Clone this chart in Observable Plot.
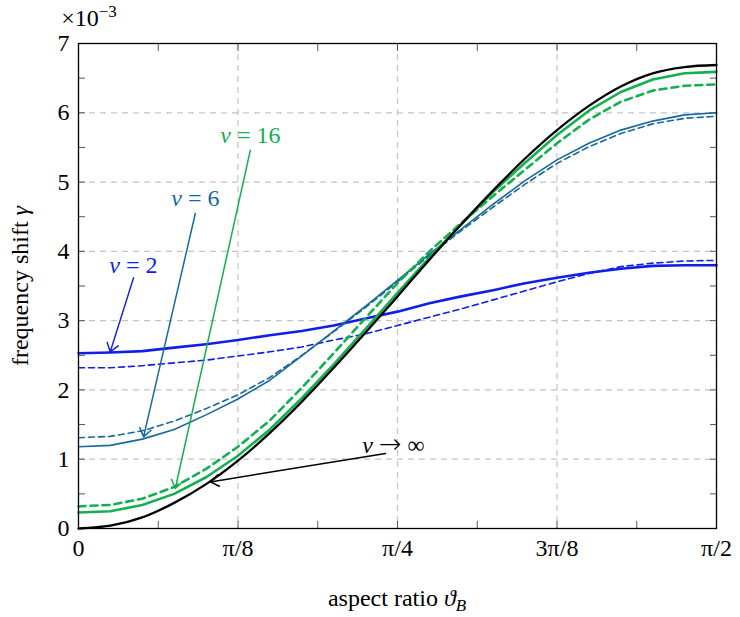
<!DOCTYPE html>
<html><head><meta charset="utf-8">
<script src="https://cdn.jsdelivr.net/npm/d3@7"></script>
<script src="https://cdn.jsdelivr.net/npm/@observablehq/plot@0.6"></script>
<style>html,body{margin:0;padding:0;background:#fff;} svg{display:block}</style>
</head><body><div id="chart"></div>
<script>
// sample positions of the aspect ratio, as fractions of pi
const thetaFrac = [0, 0.025, 0.05, 0.075, 0.1, 0.125, 0.15, 0.175, 0.2, 0.225, 0.25,
                   0.275, 0.3, 0.325, 0.35, 0.375, 0.4, 0.425, 0.45, 0.475, 0.5];
// frequency shift gamma, in units of 1e-3
const blackInf     = [0, 0.04, 0.16, 0.37, 0.64, 0.98, 1.38, 1.83, 2.32, 2.83, 3.35, 3.88, 4.39, 4.88, 5.34, 5.75, 6.10, 6.38, 6.57, 6.66, 6.69];
const green16Solid = [0.23, 0.25, 0.34, 0.50, 0.74, 1.05, 1.43, 1.88, 2.37, 2.88, 3.40, 3.91, 4.39, 4.86, 5.28, 5.68, 6.03, 6.30, 6.48, 6.57, 6.59];
const green16Dash  = [0.32, 0.34, 0.43, 0.60, 0.86, 1.18, 1.56, 2.03, 2.53, 3.04, 3.54, 4.00, 4.41, 4.80, 5.18, 5.56, 5.90, 6.16, 6.32, 6.39, 6.41];
const teal6Solid   = [1.18, 1.20, 1.29, 1.43, 1.64, 1.87, 2.14, 2.49, 2.85, 3.21, 3.58, 3.96, 4.32, 4.68, 5.02, 5.32, 5.56, 5.75, 5.88, 5.97, 6.00];
const teal6Dash    = [1.31, 1.33, 1.41, 1.55, 1.73, 1.93, 2.18, 2.50, 2.84, 3.19, 3.56, 3.94, 4.30, 4.64, 4.97, 5.27, 5.51, 5.70, 5.84, 5.92, 5.95];
const blue2Solid   = [2.53, 2.54, 2.56, 2.61, 2.66, 2.72, 2.79, 2.85, 2.93, 3.03, 3.13, 3.25, 3.35, 3.44, 3.54, 3.62, 3.69, 3.75, 3.79, 3.80, 3.80];
const blue2Dash    = [2.32, 2.32, 2.35, 2.39, 2.43, 2.49, 2.55, 2.62, 2.72, 2.81, 2.93, 3.05, 3.17, 3.30, 3.43, 3.56, 3.68, 3.78, 3.83, 3.86, 3.87];

// axis ticks
const xTickFrac   = [0, 0.125, 0.25, 0.375, 0.5];
const xTickLabels = ["0", "π/8", "π/4", "3π/8", "π/2"];
const xMinorFrac  = [0.0625, 0.125, 0.1875, 0.25, 0.3125, 0.375, 0.4375];
const yTicks      = [0, 1, 2, 3, 4, 5, 6, 7];
const yMinor      = [0.5, 1, 1.5, 2, 2.5, 3, 3.5, 4, 4.5, 5, 5.5, 6, 6.5];

// annotations (theta in rad, gamma in 1e-3)
const annLabels = ["ν = 2", "ν = 6", "ν = 16", "ν → ∞"];
const annTextX  = [0.135, 0.2876, 0.4231, 0.7755];
const annTextY  = [3.80, 4.76, 5.67, 1.20];
const annFromX  = [0.1355, 0.2876, 0.4231, 0.7558];
const annFromY  = [3.617, 4.546, 5.46, 1.082];
const annToX    = [0.0781, 0.1602, 0.2383, 0.3246];
const annToY    = [2.549, 1.322, 0.577, 0.6725];

const BLUE = "#0f1fe6", TEAL = "#16699e", GREEN = "#12b04f", BLACK = "#000000";
const annColors = [BLUE, TEAL, GREEN, BLACK];
const annAnchor = ["middle", "middle", "middle", "start"];

const theta = thetaFrac.map(f => f * Math.PI);
const toRows = vals => vals.map((v, i) => ({theta: theta[i], gamma: v}));
const xTicks = xTickFrac.map(f => f * Math.PI);
const xMinor = xMinorFrac.map(f => f * Math.PI);
const ann = annLabels.map((t, i) => ({t, tx: annTextX[i], ty: annTextY[i], x1: annFromX[i], y1: annFromY[i], x2: annToX[i], y2: annToY[i], c: annColors[i], a: annAnchor[i]}));

const FONT = "'Liberation Serif', 'DejaVu Serif', serif";
const lineStyles = [
  [blue2Solid, {stroke: BLUE, strokeWidth: 2.6}],
  [blue2Dash,  {stroke: BLUE, strokeWidth: 1.6, strokeDasharray: "6,4"}],
  [teal6Solid, {stroke: TEAL, strokeWidth: 1.6}],
  [teal6Dash,  {stroke: TEAL, strokeWidth: 1.6, strokeDasharray: "6,4"}],
  [green16Solid, {stroke: GREEN, strokeWidth: 2.6}],
  [green16Dash,  {stroke: GREEN, strokeWidth: 2.6, strokeDasharray: "7,5"}],
  [blackInf,   {stroke: BLACK, strokeWidth: 2.3, curve: "monotone-x"}]
];

const chart = Plot.plot({
  width: 740, height: 617,
  marginLeft: 78, marginRight: 24, marginTop: 43, marginBottom: 89,
  style: {fontSize: "23px", background: "#fff", color: "#000"},
  x: {domain: [0, Math.PI / 2]},
  y: {domain: [0, 7]},
  marks: [
    Plot.gridX(xTicks, {stroke: "#c4c4c4", strokeOpacity: 1, strokeWidth: 1.2, strokeDasharray: "6,5"}),
    Plot.gridY(yTicks, {stroke: "#c4c4c4", strokeOpacity: 1, strokeWidth: 1.2, strokeDasharray: "6,5"}),
    Plot.axisX(xMinor, {anchor: "bottom", tickSize: 7, dy: -7, fill: "none", stroke: "#555", label: null}),
    Plot.axisX(xMinor, {anchor: "top", tickSize: 7, dy: 7, fill: "none", stroke: "#555", label: null}),
    Plot.axisY(yMinor, {anchor: "left", tickSize: 7, dx: 7, fill: "none", stroke: "#555", label: null}),
    Plot.axisY(yMinor, {anchor: "right", tickSize: 7, dx: -7, fill: "none", stroke: "#555", label: null}),
    Plot.axisX(xTicks, {anchor: "bottom", tickSize: 0, tickPadding: 10, tickFormat: d => xTickLabels[xTicks.indexOf(d)], label: null, fontSize: 24}),
    Plot.axisY(yTicks, {anchor: "left", tickSize: 0, tickPadding: 9, tickFormat: d => String(d), label: null, fontSize: 24}),
    ...lineStyles.map(([vals, st]) => Plot.line(toRows(vals), {x: "theta", y: "gamma", ...st})),
    Plot.arrow(ann, {x1: "x1", y1: "y1", x2: "x2", y2: "y2", stroke: "c", strokeWidth: 1.5, headLength: 10, headAngle: 70}),
    Plot.text(ann, {x: "tx", y: "ty", text: "t", fill: "c", textAnchor: "a", fontSize: 24, lineAnchor: "middle"}),
    Plot.frame({stroke: "#000", strokeWidth: 1.3})
  ]
});
document.getElementById("chart").appendChild(chart);

const svg = d3.select(chart);
// italic nu and a proper arrow glyph in the annotation labels
svg.selectAll('g[aria-label="text"] text').each(function () {
  const s = this.textContent;
  if (!s.startsWith("ν")) return;
  const el = d3.select(this);
  el.text(null);
  el.append("tspan").attr("font-style", "italic").text("ν");
  const rest = s.slice(1);
  if (rest.includes("→")) {
    el.append("tspan").text(" ");
    el.append("tspan").style("font-family", "'DejaVu Sans', sans-serif").style("font-weight", "200").attr("font-size", 27).text("→");
    el.append("tspan").text(" " + rest.slice(rest.indexOf("→") + 1).trim());
  } else {
    el.append("tspan").text(rest);
  }
});

// exponent and axis titles
const exp = svg.append("text").attr("x", 89).attr("y", 26).attr("font-size", 24).attr("fill", "#000");
exp.append("tspan").text("×10");
exp.append("tspan").attr("dy", -9).attr("font-size", 17).text("−3");

const xl = svg.append("text").attr("x", 397).attr("y", 606).attr("text-anchor", "middle").attr("font-size", 24).attr("fill", "#000");
xl.append("tspan").text("aspect ratio ");
xl.append("tspan").attr("font-style", "italic").text("ϑ");
xl.append("tspan").attr("font-style", "italic").attr("font-size", 17).attr("dy", 5).text("B");

const yl = svg.append("text").attr("transform", "translate(28,286) rotate(-90)").attr("text-anchor", "middle").attr("font-size", 24).attr("fill", "#000");
yl.append("tspan").text("frequency shift ");
yl.append("tspan").attr("font-style", "italic").text("γ");

// serif font on every text element (inline style wins over Plot's defaults)
chart.querySelectorAll("text").forEach(t => t.style.fontFamily = FONT);
</script></body></html>
